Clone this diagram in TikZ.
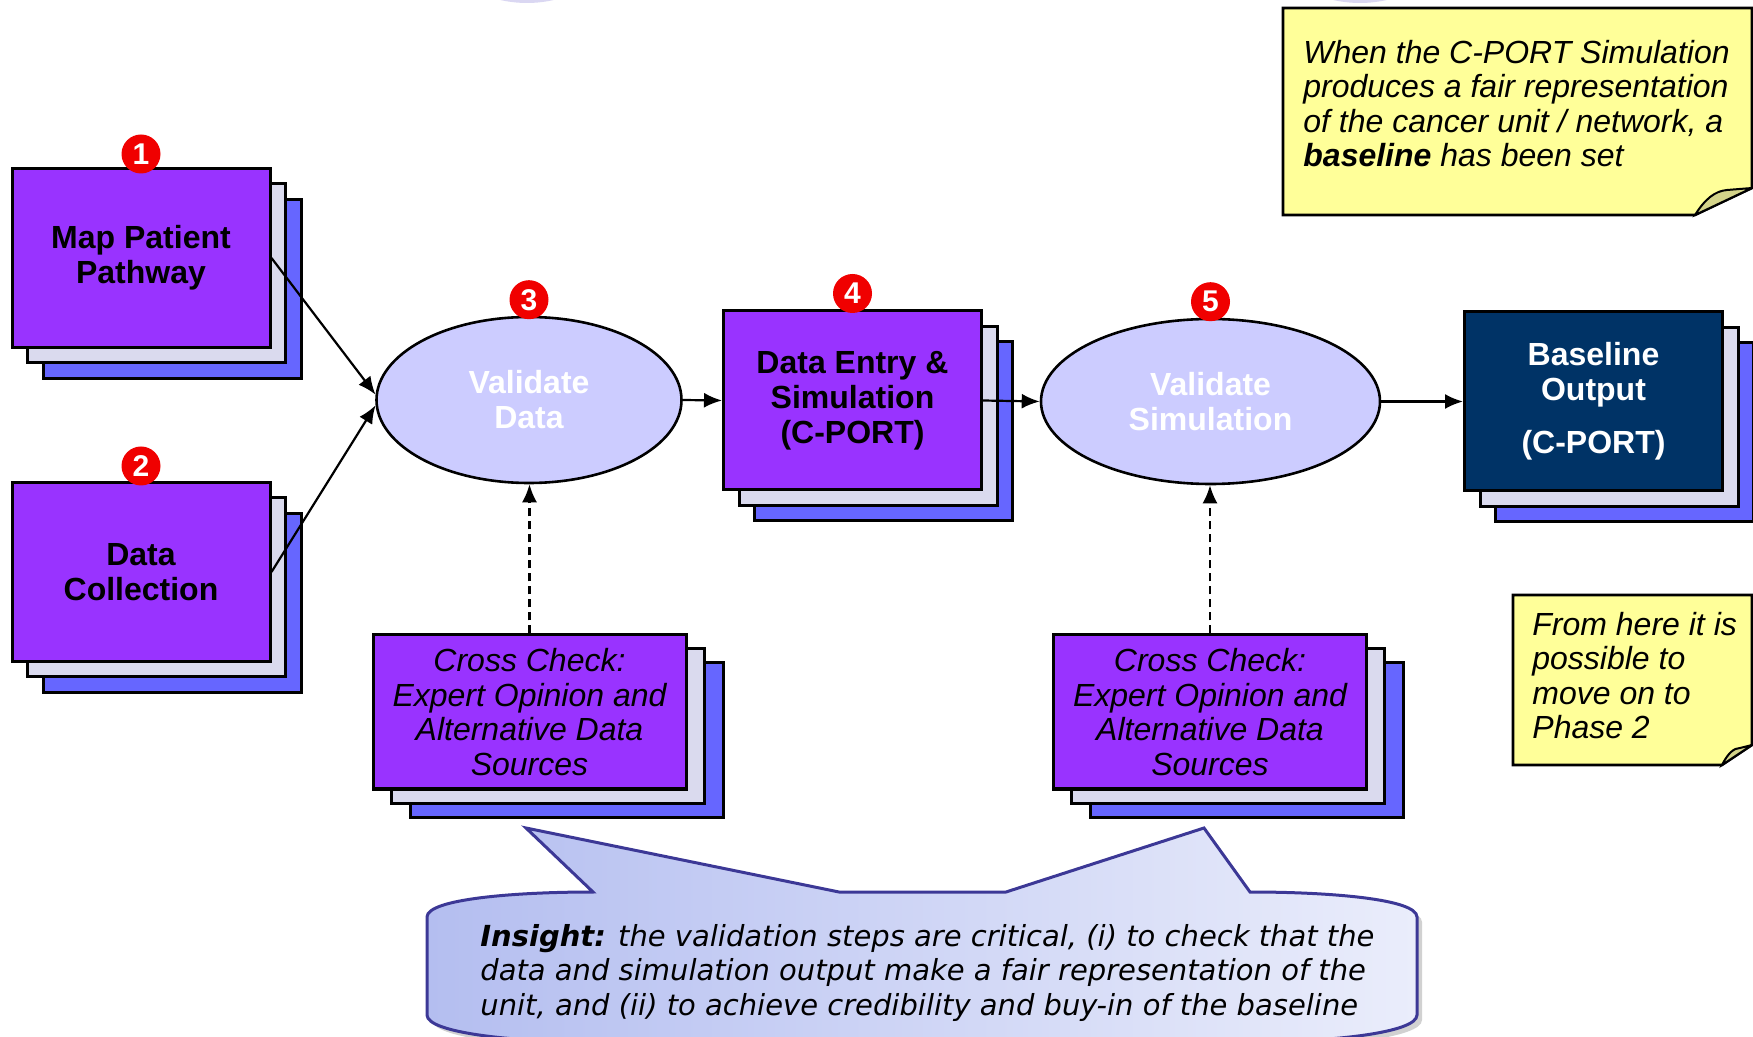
\documentclass[tikz,border=0pt]{standalone}
\usepackage{fontspec}
\setmainfont{Liberation Sans}
\newfontfamily\insightfont{DejaVu Sans}
\usetikzlibrary{shapes.geometric,shadows,arrows.meta}

\definecolor{stepviolet}{RGB}{153,51,255}
\definecolor{layergrey}{RGB}{218,218,238}
\definecolor{layerblue}{RGB}{102,102,255}
\definecolor{checklilac}{RGB}{204,204,255}
\definecolor{basenavy}{RGB}{0,51,102}
\definecolor{noteyellow}{RGB}{255,255,153}
\definecolor{notefold}{RGB}{212,212,138}
\definecolor{calloutleft}{RGB}{180,190,240}
\definecolor{calloutright}{RGB}{234,237,251}
\definecolor{calloutline}{RGB}{60,56,150}
\definecolor{badgered}{RGB}{240,0,0}
\definecolor{faintlilac}{RGB}{218,215,242}

\tikzset{
  stack/.style={
    general shadow={fill=layerblue,draw=black,shadow xshift=15.5pt,shadow yshift=-15.5pt},
    general shadow={fill=layergrey,draw=black,shadow xshift=7.75pt,shadow yshift=-7.75pt}},
  widestack/.style={
    general shadow={fill=layerblue,draw=black,shadow xshift=18.5pt,shadow yshift=-14pt},
    general shadow={fill=layergrey,draw=black,shadow xshift=9pt,shadow yshift=-7pt}},
  stepbox/.style={rectangle,draw=black,line width=1.5pt,fill=stepviolet,stack,
    minimum width=129pt,minimum height=89.5pt,inner sep=0pt,align=center,
    font=\bfseries\fontsize{16}{17.5}\selectfont},
  outbox/.style={stepbox,fill=basenavy,text=white},
  checkbox/.style={rectangle,draw=black,line width=1.5pt,fill=stepviolet,widestack,
    minimum width=156.5pt,minimum height=77pt,inner sep=0pt,align=center,
    font=\itshape\fontsize{16}{17.2}\selectfont},
  stepoval/.style={ellipse,draw=black,line width=1.3pt,fill=checklilac,text=white,
    inner sep=0pt,align=center,font=\bfseries\fontsize{16}{17.5}\selectfont},
  badge/.style={circle,fill=badgered,text=white,minimum size=19.5pt,inner sep=0pt,
    font=\bfseries\fontsize{15}{15}\selectfont},
  notebox/.style={draw=black,line width=1.3pt,fill=noteyellow},
  notefoldline/.style={draw=black,line width=1pt,fill=notefold},
  notetext/.style={anchor=base west,inner sep=0pt,align=left,
    font=\itshape\fontsize{16}{17.3}\selectfont},
  link/.style={line width=1.1pt,-{Latex[length=9pt,width=7.5pt]}},
  checklink/.style={link,dash pattern=on 4pt off 2.5pt}
}

\begin{document}
\begin{tikzpicture}[x=0.5pt,y=-0.5pt]
  \useasboundingbox (0,0) rectangle (1753,1037);

  % shapes cut off at the top edge
  \fill[faintlilac] (527,-80) ellipse [x radius=100, y radius=83];
  \fill[faintlilac] (1360,-80) ellipse [x radius=100, y radius=83];

  % steps of the process
  \node[stepbox] (pathway) at (141,258) {Map Patient\\Pathway};
  \node[stepbox] (collect) at (141,572) {Data\\Collection};
  \node[stepoval,minimum width=152.5pt,minimum height=83pt] (vdata) at (529,400) {Validate\\Data};
  \node[stepbox] (entry) at (852.5,400.5) {Data Entry \&\\Simulation\\(C-PORT)};
  \node[stepoval,minimum width=169.5pt,minimum height=82.5pt] (vsim) at (1210.5,401.5) {Validate\\Simulation};
  \node[outbox] (baseline) at (1593.5,401.5) {Baseline\\Output\\[9pt](C-PORT)};

  % cross checks
  \node[checkbox] (check1) at (529.5,712) {Cross Check:\\Expert Opinion and\\Alternative Data\\Sources};
  \node[checkbox] (check2) at (1210,712) {Cross Check:\\Expert Opinion and\\Alternative Data\\Sources};

  % numbered badges
  \node[badge,yshift=6.5pt] (badge1) at (pathway.north) {1};
  \node[badge,yshift=7.5pt] (badge2) at (collect.north) {2};
  \node[badge,yshift=8pt] (badge3) at (vdata.north) {3};
  \node[badge,yshift=8pt] (badge4) at (entry.north) {4};
  \node[badge,yshift=8pt] (badge5) at (vsim.north) {5};

  % connectors
  \draw[link] (pathway.east) -- (vdata.178);
  \draw[link] (collect.east) -- (vdata.182);
  \draw[link] (vdata.east) -- (entry.west);
  \draw[link] (entry.east) -- (vsim.west);
  \draw[link] (vsim.east) -- (baseline.west);
  \draw[checklink] (check1.north) -- (check1.north |- vdata.south);
  \draw[checklink] (check2.north) -- (check2.north |- vsim.south);

  % sticky notes
  \draw[notebox] (1283,8) -- (1752,8) -- (1752,188) -- (1695,215) -- (1283,215) -- cycle;
  \draw[notefoldline] (1695,215) .. controls (1705,199) and (1715,191) .. (1727,190) -- (1752,188) -- cycle;
  \node[notetext] (baselinenote) at (1303,167) {When the C-PORT Simulation\\produces a fair representation\\of the cancer unit / network, a\\\textbf{baseline} has been set};

  \draw[notebox] (1513,595) -- (1752,595) -- (1752,745) -- (1722,765) -- (1513,765) -- cycle;
  \draw[notefoldline] (1722,765) .. controls (1728,753) and (1734,748) .. (1740,748) -- (1752,745) -- cycle;
  \node[notetext] (phasenote) at (1532,739) {From here it is\\possible to\\move on to\\Phase 2};

  % insight callout
  \draw[line width=1.5pt,draw=calloutline,left color=calloutleft,right color=calloutright,
    drop shadow={shadow xshift=2.5pt,shadow yshift=-2.5pt,opacity=1,fill=black!18}]
    (427,1015) -- (427,917) .. controls (427,899) and (515,892) .. (593,892)
    -- (526,828) -- (839,892) -- (1006,892) -- (1204,828) -- (1250,892)
    .. controls (1330,892) and (1417,899) .. (1417,917) -- (1417,1015)
    .. controls (1417,1033) and (1330,1042) .. (1250,1042) -- (593,1042)
    .. controls (515,1042) and (427,1033) .. (427,1015) -- cycle;
  \node[anchor=base west,inner sep=0pt,align=left,
    font=\insightfont\itshape\fontsize{14.5}{17.25}\selectfont] (insight) at (480,1015)
    {\textbf{Insight:} the validation steps are critical, (i) to check that the\\
     data and simulation output make a fair representation of the\\
     unit, and (ii) to achieve credibility and buy-in of the baseline};
\end{tikzpicture}
\end{document}
